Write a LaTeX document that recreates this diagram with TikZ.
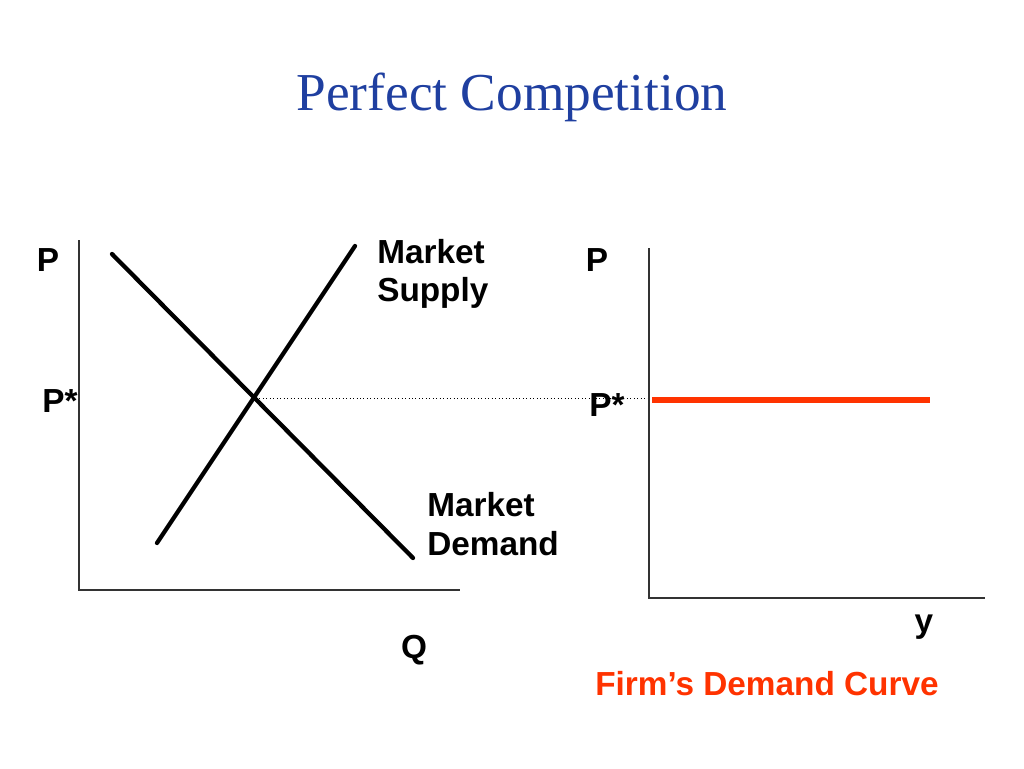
\documentclass[tikz,border=0pt]{standalone}
\usepackage{fontspec}
\setmainfont{Liberation Serif}
\newfontfamily\lab{Liberation Sans}
\definecolor{ttl}{HTML}{1F3FA0}
\definecolor{fred}{HTML}{FF3300}
\begin{document}
\begin{tikzpicture}[x=0.75pt,y=-0.75pt,
  lbl/.style={font=\lab\bfseries\fontsize{25}{29}\selectfont,inner sep=0pt},
  ax/.style={line width=0.8pt,draw=black!80},
  curve/.style={line width=3.2pt,line cap=round}]
\useasboundingbox (0,0) rectangle (1024,768);
\node[font=\fontsize{40}{46}\selectfont,text=ttl] (title) at (512,97) {Perfect Competition};
% left axes
\coordinate (lo) at (79,590);
\coordinate (lt) at (79,240);
\coordinate (lr) at (460,590);
\draw[ax] (lt) -- (lo) -- (lr);
\coordinate (d1) at (112,254); \coordinate (d2) at (413,558);
\coordinate (s1) at (157,543); \coordinate (s2) at (355,246);
\draw[curve] (d1) -- (d2);
\draw[curve] (s1) -- (s2);
\coordinate (eq) at (256,398);
\coordinate (rp) at (650,398);
\draw[dotted,line width=0.6pt] (eq) -- (rp);
% right axes
\coordinate (ro) at (649,598);
\coordinate (rt) at (649,248);
\coordinate (rr) at (985,598);
\draw[ax] (rt) -- (ro) -- (rr);
\coordinate (f1) at (652,400); \coordinate (f2) at (930,400);
\draw[line width=4pt,fred] (f1) -- (f2);
% labels
\node[lbl] (p1) at (48,260) {P};
\node[lbl] (ps1) at (60,401) {P*};
\node[lbl,anchor=west,align=left] (ms) at (377,274) {Market\\Supply};
\node[lbl,anchor=west,align=left] (md) at (427,524) {Market\\Demand};
\node[lbl] (q) at (414,650) {Q};
\node[lbl] (p2) at (597,260) {P};
\node[lbl] (ps2) at (607,405) {P*};
\node[lbl] (y) at (924,627) {y};
\node[lbl,text=fred] (fd) at (767,684) {Firm’s Demand Curve};
\end{tikzpicture}
\end{document}
